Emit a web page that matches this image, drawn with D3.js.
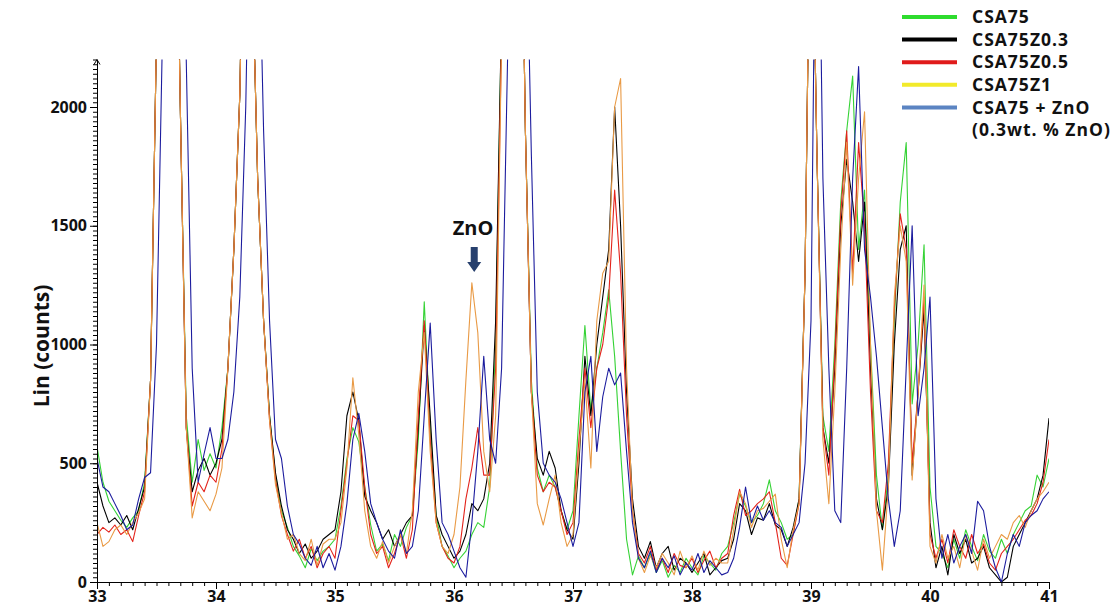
<!DOCTYPE html>
<html><head><meta charset="utf-8">
<script src="https://cdn.jsdelivr.net/npm/d3@7"></script>
<style>body{margin:0;background:#fff} svg{display:block}</style>
</head><body><svg id="c" width="1118" height="608"></svg>
<script>
// 2-theta grid: 33.00 .. 41.00 in 0.05 steps (161 points)
const angleStart = 33, angleStep = 0.05;
const xTickLabels = [33, 34, 35, 36, 37, 38, 39, 40, 41];
const yTickLabels = [0, 500, 1000, 1500, 2000];
const seriesNames = ["CSA75", "CSA75Z0.3", "CSA75Z0.5", "CSA75Z1", "CSA75 + ZnO"];

const csa75 = [
 570,420,340,300,260,230,270,300,420,850,
 2300,3800,4300,3500,2000,700,420,600,470,540,
 480,650,900,1400,2050,3400,2700,1700,1100,700,
 450,300,230,150,110,60,140,90,130,150,
 180,320,520,650,590,400,240,130,160,90,
 200,150,230,280,600,1180,650,280,150,110,
 60,100,130,200,250,230,400,1000,2400,4000,
 4200,3500,1900,850,480,380,450,400,300,220,
 300,700,1080,720,900,1050,1230,950,550,180,
 30,110,60,120,40,90,20,70,40,100,
 60,30,110,80,50,120,150,250,370,320,
 250,280,330,430,300,250,180,200,350,1300,
 3200,1800,700,550,1000,1600,1900,2130,1400,1650,
 1000,450,220,450,1100,1600,1850,750,1000,1420,
 400,150,120,60,180,100,220,150,90,200,
 130,100,180,120,200,250,300,320,450,400,
 520];
const csa75z03 = [
 420,320,250,270,240,280,220,310,400,850,
 2300,3800,4300,3500,2000,650,380,470,520,450,
 500,600,900,1400,2050,3400,2700,1700,1100,700,
 460,320,220,180,120,160,100,130,180,200,
 220,380,700,800,680,360,300,250,180,220,
 150,200,250,280,650,1080,700,280,200,150,
 100,130,200,330,300,350,500,1100,2400,4000,
 4200,3500,1900,800,520,450,550,480,300,220,
 180,500,950,700,1000,1200,1400,2000,1500,800,
 350,150,100,170,60,120,150,50,100,80,
 40,80,120,30,60,90,100,180,330,300,
 200,270,260,330,240,220,150,230,350,1300,
 3200,1800,650,500,900,1500,1780,1600,1350,1600,
 900,350,220,400,1000,1400,1500,450,800,1150,
 250,60,150,30,200,120,180,80,100,150,
 60,30,0,20,150,200,250,300,350,450,
 690];
const csa75z05 = [
 200,230,210,240,200,220,170,280,380,850,
 2300,3800,4300,3500,2000,650,320,420,380,450,
 420,560,900,1400,2050,3400,2700,1700,1100,680,
 430,280,200,130,180,100,150,60,120,150,
 100,300,500,700,680,400,200,120,150,60,
 120,200,100,220,700,1100,600,250,150,100,
 80,150,350,480,650,450,450,900,2300,4000,
 4200,3500,1900,800,450,380,420,400,300,200,
 250,600,900,650,900,1000,1200,1650,1300,700,
 300,120,80,150,50,100,40,120,70,60,
 100,40,90,130,60,100,120,280,390,280,
 300,330,350,380,250,100,70,200,330,1300,
 3200,1800,650,450,950,1550,1900,1300,1850,1500,
 800,300,250,500,1150,1550,1400,500,800,1200,
 200,100,180,80,220,150,100,200,120,160,
 80,50,120,150,180,220,260,280,330,420,
 600];
const csa75z1 = [
 250,150,170,220,240,200,250,290,350,850,
 2300,3800,4300,3500,2000,650,270,380,340,300,
 370,480,900,1400,2050,3400,2700,1700,1100,680,
 410,290,180,200,120,90,180,70,160,180,
 180,250,480,860,620,300,150,100,170,80,
 150,200,120,300,800,1050,550,250,150,120,
 200,400,850,1260,1050,550,380,700,2300,4000,
 4200,3500,1900,800,330,240,350,450,250,150,
 200,550,850,480,1100,1300,1350,2000,2120,900,
 300,100,40,110,60,120,80,30,130,60,
 110,50,130,70,100,80,80,220,380,330,
 230,300,310,340,370,180,60,220,330,1300,
 3200,1800,600,330,800,1400,1850,1250,1700,1980,
 1000,300,50,400,1200,1500,1350,430,800,1250,
 150,80,200,100,150,60,200,130,50,180,
 100,150,200,180,250,280,230,300,350,380,
 420];
const csa75zno = [
 520,400,380,330,280,220,240,350,440,460,
 1000,2300,3800,4300,3600,2200,900,420,540,650,
 520,520,600,800,1200,2000,3400,3000,1900,1100,
 600,520,320,200,160,100,70,150,60,120,
 50,150,330,600,710,550,330,250,180,130,
 100,220,120,150,300,700,1090,600,250,200,
 130,60,20,250,550,950,600,500,900,2200,
 4000,4300,3000,1800,800,500,450,420,350,250,
 150,250,800,950,550,780,900,830,880,550,
 250,100,60,130,40,100,60,110,30,80,
 50,120,40,90,60,30,40,100,230,400,
 250,320,260,300,250,230,150,200,250,500,
 1100,3500,1700,900,300,250,900,1700,2170,1400,
 1200,950,650,350,150,300,900,1500,700,900,
 1200,350,100,200,80,150,200,120,340,300,
 150,60,0,120,200,150,250,280,300,350,
 380];

const seriesValues = [csa75, csa75z03, csa75z05, csa75z1, csa75zno];
const lineColors = ["#35d235", "#000000", "#e3231b", "#e99a45", "#1c1c9e"];
const legendColors = ["#2edc2e", "#000000", "#e01b1b", "#f2ea2a", "#5b84c2"];

const svg = d3.select("#c");
const x = d3.scaleLinear().domain([33, 41]).range([97, 1049]);
const y = d3.scaleLinear().domain([0, 2200]).range([582, 59.5]);
const font = "'Open Sans', Lato, sans-serif";

svg.append("defs").append("clipPath").attr("id", "plotclip")
  .append("rect").attr("x", 97).attr("y", 59.5).attr("width", 952).attr("height", 522.5);

const line = d3.line()
  .x((d, i) => x(angleStart + i * angleStep))
  .y(d => y(d));

const g = svg.append("g").attr("clip-path", "url(#plotclip)");
seriesValues.forEach((vals, k) => {
  g.append("path").datum(vals)
    .attr("d", line)
    .attr("fill", "none")
    .attr("stroke", lineColors[k])
    .attr("stroke-width", 1.1)
    .attr("stroke-linejoin", "round");
});

// X axis: minor ticks every 0.1, major ticks at integers
const xMinor = d3.range(330, 411).map(v => v / 10);
svg.append("g").attr("transform", "translate(0,582)")
  .call(d3.axisBottom(x).tickValues(xMinor).tickSize(4).tickFormat(""))
  .call(a => a.select(".domain").attr("stroke", "#000"));
const xAx = svg.append("g").attr("transform", "translate(0,582)")
  .call(d3.axisBottom(x).tickValues(xTickLabels).tickSize(7).tickPadding(2).tickFormat(d3.format("d")));
xAx.select(".domain").remove();
xAx.selectAll("text").attr("font-family", font).attr("font-weight", "bold").attr("font-size", 16).attr("fill", "#111");

// Y axis: minor ticks every 20 counts, labels at 500s
const yMinor = d3.range(0, 2200, 20);
svg.append("g").attr("transform", "translate(97,0)")
  .call(d3.axisLeft(y).tickValues(yMinor).tickSize(4).tickFormat(""))
  .call(a => a.select(".domain").attr("stroke", "#000"));
const yAx = svg.append("g").attr("transform", "translate(97,0)")
  .call(d3.axisLeft(y).tickValues(yTickLabels).tickSize(7).tickPadding(3).tickFormat(d3.format("d")));
yAx.select(".domain").remove();
yAx.selectAll("text").attr("font-family", font).attr("font-weight", "bold").attr("font-size", 16).attr("fill", "#111");
svg.append("path").attr("d", `M94,${y(2200)+5} L97,${y(2200)} L100,${y(2200)+5}`).attr("fill", "none").attr("stroke", "#000");

// Y title
svg.append("text")
  .attr("transform", "translate(49,346) rotate(-90)")
  .attr("text-anchor", "middle")
  .attr("font-family", font).attr("font-weight", "bold").attr("font-size", 21).attr("fill", "#111")
  .text("Lin (counts)");

// ZnO annotation
svg.append("text").attr("x", x(36.16)).attr("y", 235).attr("text-anchor", "middle")
  .attr("font-family", font).attr("font-weight", "bold").attr("font-size", 20).attr("fill", "#111")
  .text("ZnO");
const ax0 = x(36.17);
svg.append("path")
  .attr("d", `M${ax0-3.5},247 L${ax0+3.5},247 L${ax0+3.5},262 L${ax0+7},262 L${ax0},272 L${ax0-7},262 L${ax0-3.5},262 Z`)
  .attr("fill", "#27406e");

// Legend
const legendRows = [17, 39.6, 62.2, 84.8, 107.4];
seriesNames.forEach((name, k) => {
  svg.append("line").attr("x1", 902).attr("x2", 957)
    .attr("y1", legendRows[k]).attr("y2", legendRows[k])
    .attr("stroke", legendColors[k]).attr("stroke-width", 4);
  svg.append("text").attr("x", 972).attr("y", legendRows[k]).attr("dy", "0.35em")
    .attr("font-family", font).attr("font-weight", "bold").attr("font-size", 17.5)
    .attr("letter-spacing", 1).attr("fill", "#111")
    .text(name);
});
svg.append("text").attr("x", 972).attr("y", 130).attr("dy", "0.35em")
  .attr("font-family", font).attr("font-weight", "bold").attr("font-size", 17.5)
  .attr("letter-spacing", 1).attr("fill", "#111")
  .text("(0.3wt. % ZnO)");
</script></body></html>
